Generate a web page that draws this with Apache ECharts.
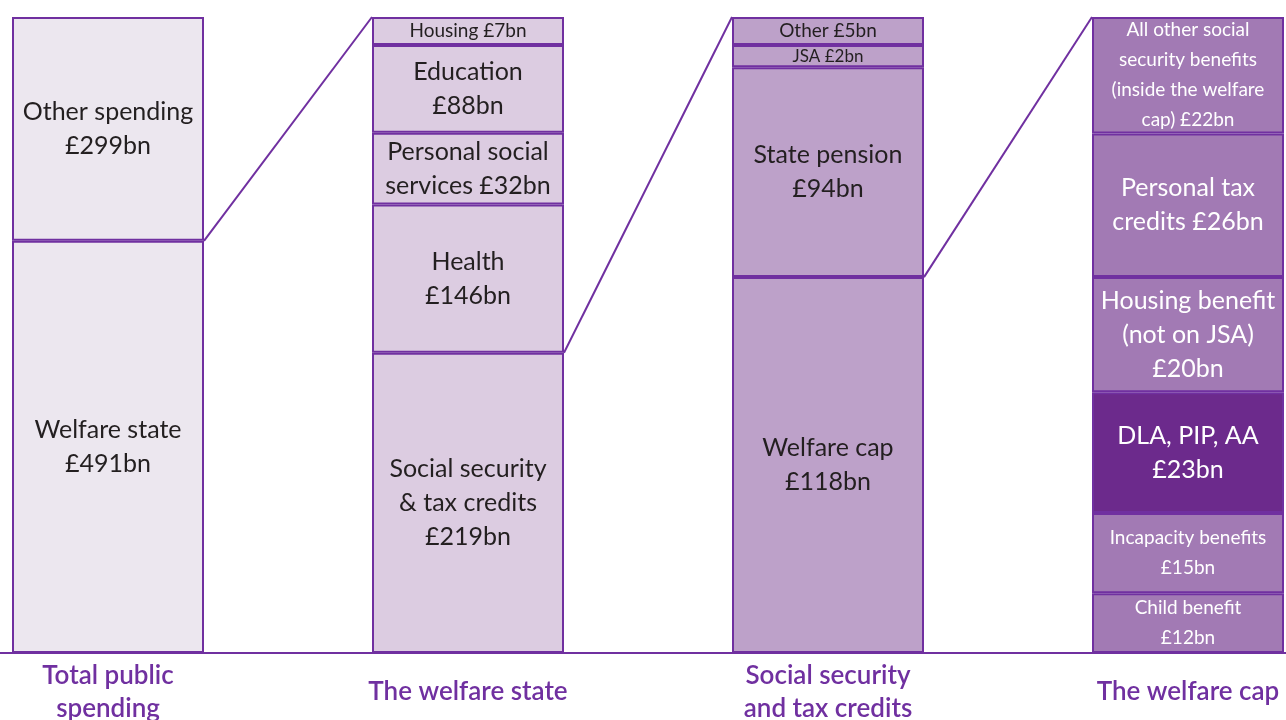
<!DOCTYPE html>
<html>
<head>
<meta charset="utf-8">
<script src="https://cdn.jsdelivr.net/npm/echarts@6/dist/echarts.min.js"></script>
<style>
  html, body { margin: 0; padding: 0; background: #fff; }
  #chart { width: 1286px; height: 720px; }
</style>
</head>
<body>
<div id="chart"></div>
<script>
// columns, left to right
var columns = ['Total public\nspending', 'The welfare state', 'Social security\nand tax credits', 'The welfare cap'];

// segments of each column, bottom to top (name text already carries its line break)
var totalNames = ['Welfare state\n', 'Other spending\n'];
var totalValues = [491, 299];
var totalShares = [64.8, 35.2];

var welfareNames = ['Social security\n& tax credits\n', 'Health\n', 'Personal social\nservices ', 'Education\n', 'Housing '];
var welfareValues = [219, 146, 32, 88, 7];
var welfareShares = [47.2, 23.3, 11.3, 13.8, 4.4];

var socialNames = ['Welfare cap\n', 'State pension\n', 'JSA ', 'Other '];
var socialValues = [118, 94, 2, 5];
var socialShares = [59.1, 33.0, 3.5, 4.4];

var capNames = ['Child benefit\n', 'Incapacity benefits\n', 'DLA, PIP, AA\n', 'Housing benefit\n(not on JSA)\n', 'Personal tax\ncredits ', 'All other social\nsecurity benefits\n(inside the welfare\ncap) '];
var capValues = [12, 15, 23, 20, 26, 22];
var capShares = [9.4, 12.6, 19.0, 18.1, 22.6, 18.3];

(function () {
    var myChart = echarts.init(document.getElementById('chart'));

    var purple = '#7030A0';
    var fills = ['#ECE7EF', '#DCCCE1', '#BDA1C9', '#A27AB4'];
    var highlight = '#6C2A8C';   // DLA, PIP, AA
    var barWidth = 192;

    var names = [totalNames, welfareNames, socialNames, capNames];
    var values = [totalValues, welfareValues, socialValues, capValues];
    var shares = [totalShares, welfareShares, socialShares, capShares];

    function widest(text) {
        return Math.max.apply(null, text.split('\n').map(function (s) { return s.length; }));
    }

    var series = [];
    for (var s = 0; s < 6; s++) {
        var data = [];
        for (var c = 0; c < columns.length; c++) {
            if (s >= shares[c].length) { data.push('-'); continue; }
            var text = names[c][s] + '£' + values[c][s] + 'bn';
            var small = shares[c][s] < 10 || widest(text) > 16;
            var fontSize = shares[c][s] < 4 ? 17 : (small ? 19 : 25);
            data.push({
                value: shares[c][s],
                itemStyle: { color: (c === 3 && s === 2) ? highlight : fills[c] },
                label: {
                    formatter: text,
                    fontSize: fontSize,
                    lineHeight: small ? 30 : 34,
                    color: c === 3 ? '#ffffff' : '#231F20'
                }
            });
        }
        series.push({
            type: 'bar',
            stack: 'all',
            barWidth: barWidth,
            clip: false,
            itemStyle: { borderColor: purple, borderWidth: 2 },
            label: { show: true, position: 'inside', fontFamily: 'Lato' },
            emphasis: { disabled: true },
            data: data
        });
    }

    // lines from the expanded (bottom) segment to the top of the next column
    var links = [];
    for (var k = 0; k < columns.length - 1; k++) {
        links.push([k, shares[k][0]]);
    }
    series.push({
        type: 'custom',
        silent: true,
        clip: false,
        data: links,
        renderItem: function (params, api) {
            var p = api.coord([api.value(0), api.value(1)]);
            var q = api.coord([api.value(0) + 1, 100]);
            return {
                type: 'line',
                shape: { x1: p[0] + barWidth / 2, y1: p[1], x2: q[0] - barWidth / 2, y2: q[1] },
                style: { stroke: purple, lineWidth: 2 }
            };
        }
    });

    var option = {
        animation: false,
        grid: { left: -72, right: -82, top: 17, bottom: 67, outerBoundsMode: 'none', containLabel: false },
        xAxis: {
            type: 'category',
            data: columns,
            axisTick: { show: false },
            axisLine: { lineStyle: { color: purple, width: 2 } },
            axisLabel: {
                interval: 0,
                margin: 39,
                verticalAlign: 'middle',
                color: purple,
                fontFamily: 'Lato',
                fontWeight: 600,
                fontSize: 26,
                lineHeight: 33
            }
        },
        yAxis: { type: 'value', min: 0, max: 100, show: false },
        series: series
    };
    myChart.setOption(option);
})();
</script>
</body>
</html>
